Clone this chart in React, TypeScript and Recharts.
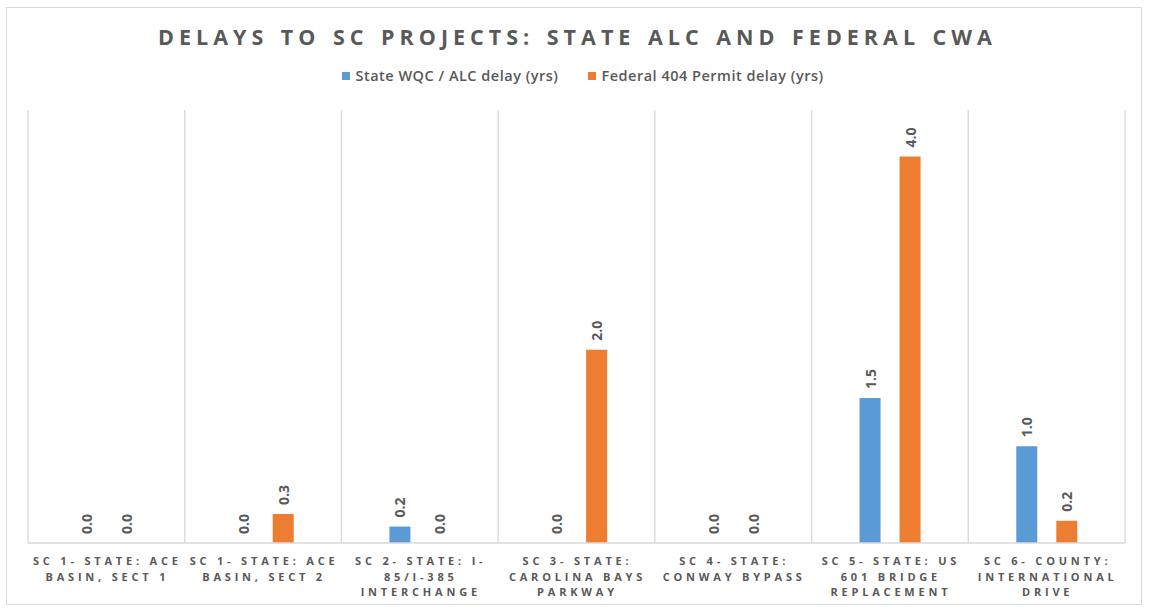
import React from 'react';
import { BarChart, Bar, XAxis, YAxis, CartesianGrid, LabelList } from 'recharts';

// category names, line breaks as in the original chart
const categories = [
  'SC 1- STATE: ACE\nBASIN, SECT 1',
  'SC 1- STATE: ACE\nBASIN, SECT 2',
  'SC 2- STATE: I-\n85/I-385\nINTERCHANGE',
  'SC 3- STATE:\nCAROLINA BAYS\nPARKWAY',
  'SC 4- STATE:\nCONWAY BYPASS',
  'SC 5- STATE: US\n601 BRIDGE\nREPLACEMENT',
  'SC 6- COUNTY:\nINTERNATIONAL\nDRIVE',
];
const stateDelay = [0, 0, 0.17, 0, 0, 1.5, 1.0];
const federalDelay = [0, 0.3, 0, 2.0, 0, 4.0, 0.23];
const seriesNames = ['State WQC / ALC delay (yrs)', 'Federal 404 Permit delay (yrs)'];

const BLUE = '#5B9BD5';
const ORANGE = '#ED7D31';
const TEXT = '#595959';
const GRID = '#d9d9d9';
const FONT = '"Open Sans", "Noto Sans", sans-serif';

const data = categories.map((name, i) => ({
  name,
  state: stateDelay[i],
  federal: federalDelay[i],
}));

// eslint-disable-next-line @typescript-eslint/no-explicit-any
const CategoryTick = ({ x, y, payload }: any) => {
  const lines = String(payload.value).split('\n');
  return (
    <text
      x={x}
      y={y}
      textAnchor="middle"
      fill={TEXT}
      fontSize={11}
      fontWeight="bold"
      letterSpacing={3.8}
      fontFamily={FONT}
    >
      {lines.map((l, i) => (
        <tspan key={i} x={x + 1} dy={i === 0 ? 22 : 15.5}>
          {l}
        </tspan>
      ))}
    </text>
  );
};

// valeur tournée de 90° au-dessus de la barre
// eslint-disable-next-line @typescript-eslint/no-explicit-any
const RotatedLabel = (props: any) => {
  const { x, y, width, value } = props;
  const cx = Number(x) + Number(width) / 2;
  const ty = Number(y) - 9;
  return (
    <text
      x={cx}
      y={ty}
      transform={`rotate(-90 ${cx} ${ty})`}
      textAnchor="start"
      dominantBaseline="central"
      fill={TEXT}
      fontSize={14}
      fontWeight="bold"
      fontFamily={FONT}
    >
      {Number(value).toFixed(1)}
    </text>
  );
};

const App: React.FC = () => {
  return (
    <div style={{ position: 'absolute', left: 0, top: 0, width: 1149, height: 608, background: '#fff' }}>
      <style>{'body{margin:0}'}</style>
      {/* cadre */}
      <div
        style={{
          position: 'absolute',
          left: 6,
          top: 7,
          width: 1136,
          height: 598,
          border: `1.5px solid ${GRID}`,
          boxSizing: 'border-box',
        }}
      />
      <div
        style={{
          position: 'absolute',
          top: 22,
          left: 0,
          width: 1155,
          textAlign: 'center',
          fontFamily: FONT,
          fontWeight: 'bold',
          fontSize: 21.5,
          letterSpacing: 5,
          wordSpacing: 2,
          color: TEXT,
        }}
      >
        DELAYS TO SC PROJECTS: STATE ALC AND FEDERAL CWA
      </div>
      <div
        style={{
          position: 'absolute',
          top: 66,
          left: 0,
          width: 1166,
          display: 'flex',
          justifyContent: 'center',
          gap: 30,
          fontFamily: FONT,
          fontWeight: 600,
          fontSize: 14.5,
          letterSpacing: 0.5,
          color: TEXT,
        }}
      >
        {seriesNames.map((n, i) => (
          <div key={n} style={{ display: 'flex', alignItems: 'center' }}>
            <span
              style={{
                display: 'inline-block',
                width: 8,
                height: 8,
                background: i === 0 ? BLUE : ORANGE,
                marginRight: 5,
              }}
            />
            {n}
          </div>
        ))}
      </div>
      <div style={{ position: 'absolute', left: 0, top: 0 }}>
        <BarChart
          width={1149}
          height={608}
          data={data}
          margin={{ top: 110, right: 24, left: 28, bottom: 0 }}
          barSize={21}
          barGap={19}
        >
          <CartesianGrid
            horizontal={false}
            stroke={GRID}
            strokeWidth={1.3}
            // eslint-disable-next-line @typescript-eslint/no-explicit-any
            verticalCoordinatesGenerator={({ offset }: any) =>
              Array.from(
                { length: categories.length + 1 },
                (_, i) => offset.left + (i * offset.width) / categories.length
              )
            }
          />
          <XAxis
            dataKey="name"
            height={65}
            interval={0}
            tickLine={false}
            tickSize={0}
            tickMargin={0}
            axisLine={{ stroke: GRID, strokeWidth: 1.3 }}
            tick={<CategoryTick />}
          />
          <YAxis hide domain={[0, 4.48]} />
          <Bar dataKey="state" name={seriesNames[0]} fill={BLUE} minPointSize={0.01} isAnimationActive={false}>
            <LabelList dataKey="state" content={<RotatedLabel />} />
          </Bar>
          <Bar dataKey="federal" name={seriesNames[1]} fill={ORANGE} minPointSize={0.01} isAnimationActive={false}>
            <LabelList dataKey="federal" content={<RotatedLabel />} />
          </Bar>
        </BarChart>
      </div>
    </div>
  );
};

export default App;
